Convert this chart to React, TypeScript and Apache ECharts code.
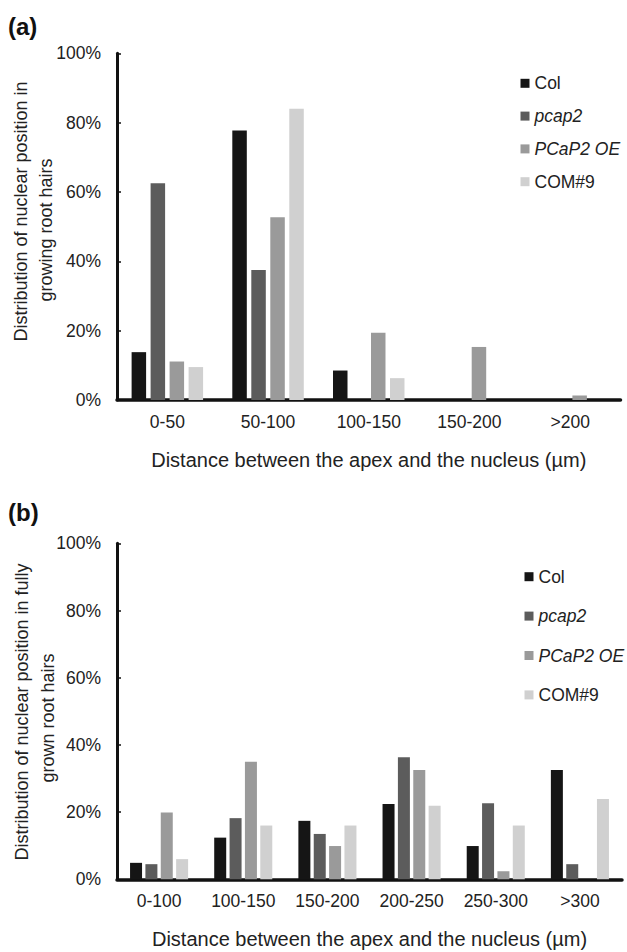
import React, { useEffect, useRef } from "react";
import * as echarts from "echarts";

const FONT = "'Liberation Sans', Arial, Helvetica, sans-serif";

const seriesNames = ["Col", "pcap2", "PCaP2 OE", "COM#9"];
const seriesColors = ["#151515", "#5c5c5c", "#9a9a9a", "#d0d0d0"];
const italicNames = ["pcap2", "PCaP2 OE"];

const catsA = ["0-50", "50-100", "100-150", "150-200", ">200"];
const colA = [13.8, 77.7, 8.5, 0, 0];
const pcap2A = [62.5, 37.5, 0, 0, 0];
const oeA = [11.1, 52.7, 19.4, 15.3, 1.3];
const comA = [9.5, 84.0, 6.3, 0, 0];

const catsB = ["0-100", "100-150", "150-200", "200-250", "250-300", ">300"];
const colB = [4.9, 12.4, 17.4, 22.4, 9.9, 32.5];
const pcap2B = [4.5, 18.2, 13.5, 36.3, 22.6, 4.5];
const oeB = [19.9, 35.0, 9.9, 32.5, 2.4, 0];
const comB = [6.0, 16.0, 16.0, 21.9, 16.0, 23.9];

const yTicks = { min: 0, max: 100, interval: 20 };

const xTitle = "Distance between the apex and the nucleus (\u00b5m)";
const yTitleA = ["Distribution of nuclear position in", "growing root hairs"];
const yTitleB = ["Distribution of nuclear position in fully", "grown root hairs"];

export default function App() {
  const ref = useRef<HTMLDivElement>(null);
  useEffect(() => {
    if (!ref.current) return;
    const chart = echarts.init(ref.current, undefined, { renderer: "svg" });
    const textColor = "#222";
    const axisColor = "#111";

    const mkX = (gridIndex: number, data: string[]) => ({
      type: "category",
      gridIndex,
      data,
      axisLine: { show: true, lineStyle: { color: axisColor, width: 3.5 } },
      axisTick: { show: false },
      axisLabel: { fontSize: 17.5, color: textColor, margin: 13, interval: 0, fontFamily: FONT },
      name: xTitle,
      nameLocation: "middle",
      nameGap: 50,
      nameTextStyle: { fontSize: 20, color: textColor, fontFamily: FONT },
    });
    const mkY = (gridIndex: number) => ({
      type: "value",
      gridIndex,
      min: yTicks.min,
      max: yTicks.max,
      interval: yTicks.interval,
      axisLine: { show: true, lineStyle: { color: axisColor, width: 3 } },
      axisTick: { show: true, inside: true, length: 4, lineStyle: { color: axisColor, width: 1.5 } },
      splitLine: { show: false },
      axisLabel: { formatter: "{value}%", fontSize: 17.5, color: textColor, margin: 16, fontFamily: FONT },
    });
    const mkLegend = (left: number, top: number, itemGap: number) => ({
      orient: "vertical",
      left,
      top,
      padding: 0,
      itemWidth: 9,
      itemHeight: 9,
      itemGap,
      itemTextGap: 4,
      icon: "rect",
      textStyle: { fontSize: 17.5, color: textColor, fontFamily: FONT },
      data: seriesNames.map((n) =>
        italicNames.includes(n) ? { name: n, textStyle: { fontStyle: "italic" } } : { name: n }
      ),
    });
    const yTitle = (text: string, x: number, y: number) => ({
      type: "text",
      x,
      y,
      rotation: Math.PI / 2,
      style: {
        text,
        font: `18px ${FONT}`,
        fill: textColor,
        align: "center",
        verticalAlign: "middle",
      },
    });

    const dataA = [colA, pcap2A, oeA, comA];
    const dataB = [colB, pcap2B, oeB, comB];
    const series: any[] = [];
    seriesNames.forEach((n, i) => {
      series.push({
        type: "bar",
        name: n,
        xAxisIndex: 0,
        yAxisIndex: 0,
        data: dataA[i],
        barWidth: 14.5,
        barGap: "31%",
        itemStyle: { color: seriesColors[i] },
      });
    });
    seriesNames.forEach((n, i) => {
      series.push({
        type: "bar",
        name: n,
        xAxisIndex: 1,
        yAxisIndex: 1,
        data: dataB[i],
        barWidth: 12,
        barGap: "28%",
        itemStyle: { color: seriesColors[i] },
      });
    });

    chart.setOption({
      animation: false,
      textStyle: { fontFamily: FONT },
      grid: [
        { left: 117, top: 53.3, width: 503.5, height: 346.7, containLabel: false, outerBoundsMode: "none" },
        { left: 117, top: 543.3, width: 505, height: 336, containLabel: false, outerBoundsMode: "none" },
      ],
      xAxis: [mkX(0, catsA), mkX(1, catsB)],
      yAxis: [mkY(0), mkY(1)],
      legend: [mkLegend(520.5, 74.3, 14.8), mkLegend(524.5, 567.7, 21.4)],
      graphic: [
        {
          type: "text",
          left: 8,
          top: 14,
          style: { text: "(a)", font: `bold 24px ${FONT}`, fill: "#111" },
        },
        {
          type: "text",
          left: 8,
          top: 500,
          style: { text: "(b)", font: `bold 24px ${FONT}`, fill: "#111" },
        },
        yTitle(yTitleA[0], 21, 211.5),
        yTitle(yTitleA[1], 46, 230),
        yTitle(yTitleB[0], 22, 712),
        yTitle(yTitleB[1], 48, 718),
      ],
      series,
    });
    return () => chart.dispose();
  }, []);
  return (
    <div
      ref={ref}
      style={{ position: "absolute", left: 0, top: 0, width: 627, height: 952, background: "#fff" }}
    />
  );
}
